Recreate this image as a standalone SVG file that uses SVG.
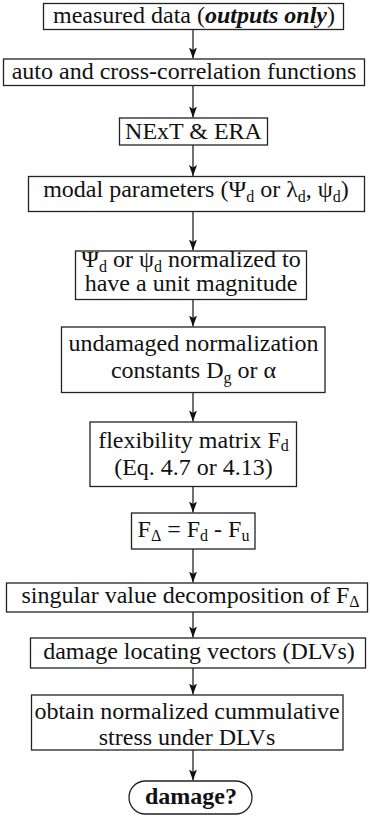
<svg xmlns="http://www.w3.org/2000/svg" width="370" height="817" viewBox="0 0 370 817">
<defs>
<style>
.box{fill:#fff;stroke:#222;stroke-width:1.3}
text{font-family:'Liberation Serif','Times New Roman','DejaVu Serif',serif;font-size:24px;fill:#111;text-anchor:middle}
.s{font-size:16px}
.c{stroke:#111;stroke-width:1.2;fill:none}
</style>
<marker id="ah" markerUnits="userSpaceOnUse" markerWidth="12" markerHeight="10" refX="11" refY="4" orient="auto">
<path d="M0,0 L11,4 L0,8 L2.5,4 Z" fill="#111"/>
</marker>
</defs>
<rect width="370" height="817" fill="#fff"/>
<g id="connectors">
<line class="c" x1="193" y1="29.5" x2="193" y2="58.5" marker-end="url(#ah)"/>
<line class="c" x1="193" y1="85.5" x2="193" y2="117.5" marker-end="url(#ah)"/>
<line class="c" x1="193" y1="145" x2="193" y2="176" marker-end="url(#ah)"/>
<line class="c" x1="193" y1="211.5" x2="193" y2="250.5" marker-end="url(#ah)"/>
<line class="c" x1="193" y1="299.5" x2="193" y2="326.5" marker-end="url(#ah)"/>
<line class="c" x1="193" y1="392.5" x2="193" y2="421.5" marker-end="url(#ah)"/>
<line class="c" x1="193" y1="486.5" x2="193" y2="512.5" marker-end="url(#ah)"/>
<line class="c" x1="193" y1="549" x2="193" y2="582.5" marker-end="url(#ah)"/>
<line class="c" x1="193" y1="612" x2="193" y2="637.5" marker-end="url(#ah)"/>
<line class="c" x1="193" y1="668" x2="193" y2="694.5" marker-end="url(#ah)"/>
<line class="c" x1="193" y1="750" x2="193" y2="780.5" marker-end="url(#ah)"/>
</g>
<g id="n1">
<rect class="box" x="43.5" y="3.5" width="300" height="26"/>
<text x="194" y="23" font-family="Liberation Serif, serif">measured data (<tspan font-weight="bold" font-style="italic">outputs only</tspan>)</text>
</g>
<g id="n2">
<rect class="box" x="3.5" y="59" width="361" height="26.5"/>
<text x="184" y="79" font-family="Liberation Serif, serif">auto and cross-correlation functions</text>
</g>
<g id="n3">
<rect class="box" x="119.5" y="118" width="148" height="27"/>
<text x="193.5" y="139" font-family="Liberation Serif, serif">NExT &amp; ERA</text>
</g>
<g id="n4">
<rect class="box" x="28.5" y="176.5" width="336" height="35"/>
<text x="196" y="197" font-family="Liberation Serif, serif">modal parameters (Ψ<tspan class="s" dy="5">d</tspan><tspan dy="-5"> or λ</tspan><tspan class="s" dy="5">d</tspan><tspan dy="-5">, ψ</tspan><tspan class="s" dy="5">d</tspan><tspan dy="-5">)</tspan></text>
</g>
<g id="n5">
<rect class="box" x="75.5" y="251" width="231" height="48.5"/>
<text x="191" y="267" font-family="Liberation Serif, serif">Ψ<tspan class="s" dy="5">d</tspan><tspan dy="-5"> or ψ</tspan><tspan class="s" dy="5">d</tspan><tspan dy="-5"> normalized to</tspan></text>
<text x="191" y="291" font-family="Liberation Serif, serif">have a unit magnitude</text>
</g>
<g id="n6">
<rect class="box" x="61.5" y="327" width="263.5" height="65.5"/>
<text x="193.5" y="351" font-family="Liberation Serif, serif">undamaged normalization</text>
<text x="193.5" y="378" font-family="Liberation Serif, serif">constants D<tspan class="s" dy="5">g</tspan><tspan dy="-5"> or α</tspan></text>
</g>
<g id="n7">
<rect class="box" x="90" y="422" width="206.5" height="64.5"/>
<text x="193.5" y="448" font-family="Liberation Serif, serif">flexibility matrix F<tspan class="s" dy="3">d</tspan></text>
<text x="193.5" y="475" font-family="Liberation Serif, serif">(Eq. 4.7 or 4.13)</text>
</g>
<g id="n8">
<rect class="box" x="131.5" y="513" width="123.5" height="36"/>
<text x="193.5" y="537" font-family="Liberation Serif, serif">F<tspan class="s" dy="4">Δ</tspan><tspan dy="-4"> = F</tspan><tspan class="s" dy="4">d</tspan><tspan dy="-4"> - F</tspan><tspan class="s" dy="4">u</tspan></text>
</g>
<g id="n9">
<rect class="box" x="6.5" y="583" width="361" height="29"/>
<text x="190.5" y="603" font-family="Liberation Serif, serif">singular value decomposition of F<tspan class="s" dy="4">Δ</tspan></text>
</g>
<g id="n10">
<rect class="box" x="30.5" y="638" width="335" height="30"/>
<text x="199" y="659" font-family="Liberation Serif, serif">damage locating vectors (DLVs)</text>
</g>
<g id="n11">
<rect class="box" x="31.5" y="695" width="311.5" height="55"/>
<text x="187" y="719" font-family="Liberation Serif, serif">obtain normalized cummulative</text>
<text x="187" y="745" font-family="Liberation Serif, serif">stress under DLVs</text>
</g>
<g id="n12">
<rect class="box" x="129" y="781" width="123" height="33" rx="16.5" ry="16.5"/>
<text x="191" y="804" font-weight="bold" font-family="Liberation Serif, serif">damage?</text>
</g>
</svg>
